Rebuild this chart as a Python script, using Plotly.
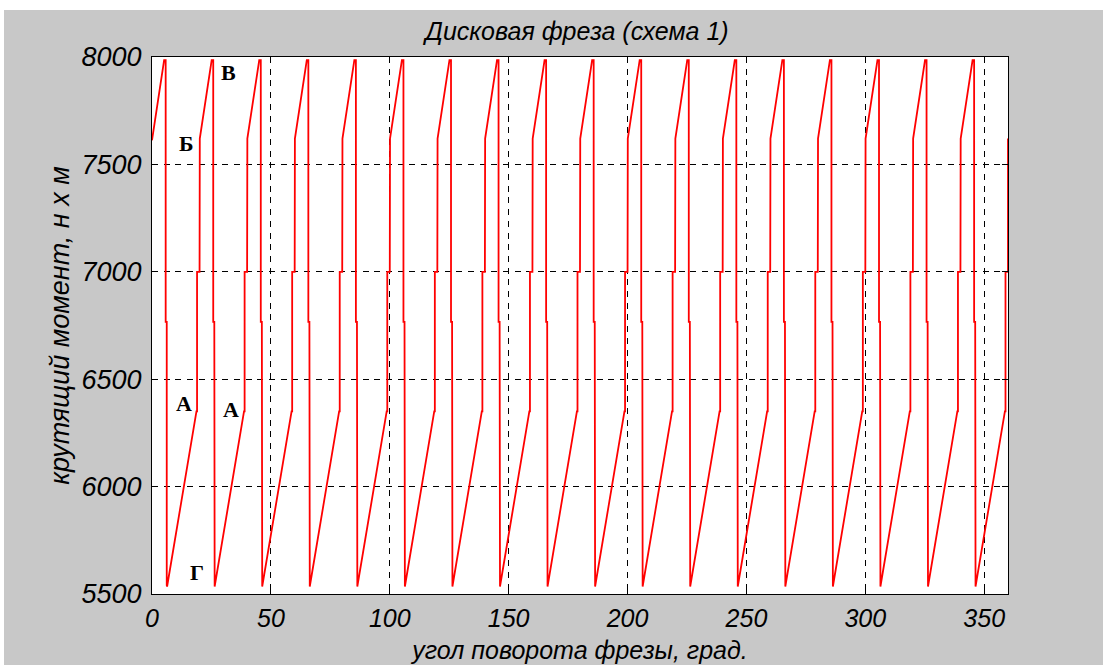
import plotly.graph_objects as go

# ---- data ----
# start angle of each tooth period (deg)
tooth_start_deg = [0, 20, 40, 60, 80, 100, 120, 140, 160, 180,
                   200, 220, 240, 260, 280, 300, 320, 340]
# torque profile inside one tooth period: angle offset (deg) and torque (N*m)
profile_offset_deg = [0.1, 5.1, 5.75, 5.75, 6.2, 6.2, 6.35, 18.7, 18.95, 18.95, 20.0]
profile_torque = [7620, 7985, 7985, 6767, 6767, 5540, 5535, 6350, 6350, 7000, 7000]
# first and last points of the record
start_angle = [0.0]
start_torque = [7612]
end_angle = [360.0]
end_torque = [7620]

# point labels on the chart
label_text = ["В", "Б", "А", "А", "Г"]
label_angle = [32.0, 14.3, 13.3, 33.2, 19.0]
label_torque = [7926, 7598, 6385, 6360, 5600]

x_ticks = [0, 50, 100, 150, 200, 250, 300, 350]
y_ticks = [5500, 6000, 6500, 7000, 7500, 8000]

title_text = "Дисковая фреза (схема 1)"
x_title = "угол поворота фрезы, град."
y_title = "крутящий момент, н х м"

# ---- build the line from the tooth profile ----
angles = list(start_angle)
torque = list(start_torque)
for s in tooth_start_deg:
    for o, t in zip(profile_offset_deg, profile_torque):
        angles.append(s + o)
        torque.append(t)
angles += end_angle
torque += end_torque

W, H = 1103, 665
L, R, T, B = 152, 95, 57, 71
pw, ph = W - L - R, H - T - B

def px(xp):
    return (xp - L) / pw

def py(yp):
    return (H - B - yp) / ph

italic = dict(family="Liberation Sans, Arial, sans-serif", style="italic", color="black")

fig = go.Figure()
fig.add_trace(go.Scatter(x=angles, y=torque, mode="lines",
                         line=dict(color="#ff0000", width=1.8),
                         hoverinfo="skip", showlegend=False))

for t, a, v in zip(label_text, label_angle, label_torque):
    fig.add_annotation(x=a, y=v, text=t, showarrow=False,
                       font=dict(family="Liberation Serif, Times New Roman, serif",
                                 size=22, weight="bold", color="black"))

grid = dict(showgrid=True, gridcolor="black", gridwidth=1.2, griddash="6px,5.7px",
            showline=True, linecolor="black", linewidth=1, mirror="ticks",
            ticks="inside", ticklen=6, tickcolor="black", zeroline=False)

fig.update_xaxes(range=[0, 360], tickvals=x_ticks, **grid,
                 tickfont=dict(size=25, **italic), ticklabelstandoff=2,
                 title=dict(text=x_title, font=dict(size=25, **italic), standoff=10))
fig.update_yaxes(range=[5500, 8000], tickvals=y_ticks, **grid,
                 tickfont=dict(size=27, **italic), ticklabelstandoff=4,
                 title=dict(text=y_title, font=dict(size=27, **italic), standoff=4))

fig.update_layout(
    width=W, height=H,
    margin=dict(l=L, r=R, t=T, b=B, autoexpand=False),
    paper_bgcolor="#c8c8c8",
    plot_bgcolor="white",
    template="none",
    hovermode=False,
    title=dict(text=title_text, xref="container", x=577 / W, xanchor="center",
               y=1 - 31 / H, yanchor="middle", font=dict(size=25, **italic)),
    shapes=[
        dict(type="rect", xref="paper", yref="paper", x0=px(-2), x1=px(W + 2),
             y0=py(10), y1=py(-2), fillcolor="white", line_width=0, layer="above"),
        dict(type="rect", xref="paper", yref="paper", x0=px(-2), x1=px(4),
             y0=py(H + 2), y1=py(-2), fillcolor="white", line_width=0, layer="above"),
    ],
)

fig.write_html("out.html", config={"displayModeBar": False},
               post_script="document.body.style.margin='0px';document.body.style.padding='0px';")
